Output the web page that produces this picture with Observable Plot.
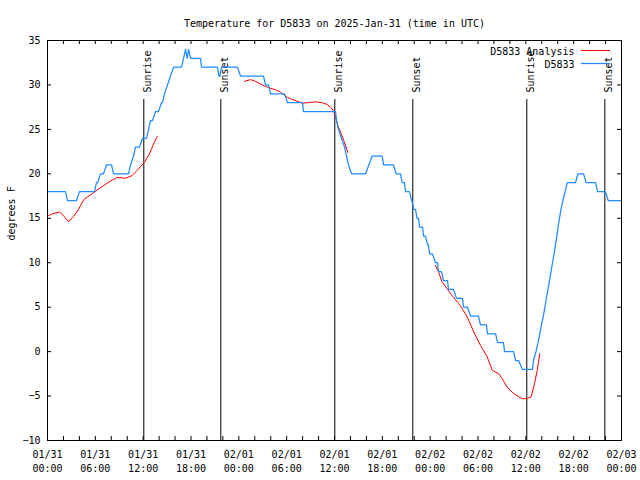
<!DOCTYPE html>
<html><head><meta charset="utf-8">
<script src="https://cdn.jsdelivr.net/npm/d3@7"></script>
<script src="https://cdn.jsdelivr.net/npm/@observablehq/plot@0.6"></script>
<style>body{margin:0;background:#fff}</style>
</head><body><div id="chart"></div>
<script>
const title = "Temperature for D5833 on 2025-Jan-31 (time in UTC)";
const yLabel = "degrees F";
const seriesNames = ["D5833 Analysis", "D5833"];
const seriesColors = ["#ff0000", "#1e8cff"];

// [hours since 2025-01-31 00:00 UTC, degrees F]
const obsPoints = [
  [0,18],[2.26,18],[2.51,17],[3.64,17],[4.01,18],[5.90,18],[6.15,19],[6.27,19],[6.65,20],[7.02,20],
  [7.40,21],[8.03,21],[8.28,20],[10.16,20],[10.41,21],[10.79,22],[11.04,23],[11.54,23],[11.92,24],[12.42,24],
  [12.67,25],[12.92,26],[13.17,26],[13.55,27],[13.92,27],[14.30,28],[14.43,28],[14.68,29],[15.05,30],[15.43,31],
  [15.81,32],[16.81,32],[17.06,33],[17.31,34],[17.52,33],[17.69,34],[17.94,33],[19.19,33],[19.32,32],[21.32,32],
  [21.51,31],[21.64,31],[21.83,32],[23.83,32],[24.21,31],[27.09,31],[27.35,30],[27.72,30],[27.97,29],[29.73,29],
  [30.11,28],[31.99,28],[32.11,27],[36.13,27],[36.25,26],[36.50,25],[36.88,24],[37.26,23],[37.51,22],[37.76,21],
  [38.14,20],[39.89,20],[40.73,22],[41.98,22],[42.15,21],[43.40,21],[43.74,20],[44.28,20],[44.49,19],[44.78,19],
  [44.91,18],[45.41,18],[45.66,17],[45.72,17],[45.91,16],[46.16,16],[46.35,15],[46.54,15],[46.67,14],[47.05,14],
  [47.17,13],[47.42,13],[47.67,12],[47.79,12],[47.92,11],[48.29,11],[48.67,10],[48.92,10],[49.05,9],[49.42,9],
  [49.67,8],[50.18,8],[50.30,7],[50.93,7],[51.30,6],[52.06,6],[52.18,5],[52.68,5],[53.06,4],[54.06,4],
  [54.31,3],[55.06,3],[55.19,2],[56.21,2],[56.45,1],[57.20,1],[57.33,0],[58.46,0],[58.71,-1],[59.09,-1],
  [59.58,-2],[60.84,-2],[60.96,-1],[61.28,0],[61.53,1],[61.75,2],[61.97,3],[62.19,4],[62.40,5],[62.57,6],
  [62.78,7],[62.97,8],[63.16,9],[63.35,10],[63.54,11],[63.72,12],[63.89,13],[64.04,14],[64.22,15],[64.41,16],
  [64.66,17],[64.92,18],[65.19,19],[66.23,19],[66.52,20],[67.24,20],[67.57,19],[68.74,19],[68.99,18],[69.99,18],
  [70.33,17],[72.0,17]
];

// analysis: three runs separated by null
const anaPoints = [
  [0.13,15.3],[0.63,15.5],[1.51,15.7],[2.01,15.3],[2.63,14.6],[3.26,15.2],[3.89,16.0],[4.55,17.1],[5.81,17.9],[7.06,18.7],
  [8.12,19.3],[8.74,19.6],[9.78,19.5],[10.62,19.8],[11.25,20.4],[12.08,21.2],[12.71,22.1],[13.33,23.4],[13.76,24.2],
  null,
  [24.71,30.4],[25.46,30.6],[26.09,30.4],[26.93,30.0],[27.76,29.7],[28.60,29.45],[29.23,29.2],[30.07,28.6],[30.90,28.3],[31.95,27.95],
  [32.58,28.0],[33.62,28.1],[34.46,28.0],[35.09,27.8],[35.62,27.4],[35.91,27.0],[36.13,26.45],[36.42,25.4],[36.75,24.7],[37.17,23.75],[37.67,22.4],
  null,
  [48.67,9.7],[49.08,8.9],[49.51,7.8],[50.14,7.06],[50.76,6.3],[51.59,5.4],[52.43,4.25],[52.85,3.5],[53.47,2.2],[54.31,0.7],
  [55.16,-0.6],[55.78,-2.1],[56.61,-2.5],[57.04,-3.06],[57.66,-4.0],[58.49,-4.75],[59.55,-5.3],[60.09,-5.3],[60.67,-5.1],[61.09,-3.6],
  [61.43,-2.1],[61.75,-0.25]
];

const sunriseHours = [12.08, 36.04, 60.12];
const sunsetHours = [21.74, 45.82, 69.91];

const xTickHours = [0,6,12,18,24,30,36,42,48,54,60,66,72];
const xTickDates = ["01/31","01/31","01/31","01/31","02/01","02/01","02/01","02/01","02/02","02/02","02/02","02/02","02/03"];
const xTickTimes = ["00:00","06:00","12:00","18:00","00:00","06:00","12:00","18:00","00:00","06:00","12:00","18:00","00:00"];
const xMinorStepHours = 2;
const yTicks = [-10,-5,0,5,10,15,20,25,30,35];

const t0 = Date.UTC(2025, 0, 31);
const toDate = h => new Date(t0 + h * 3600e3);
const obs = obsPoints.map(([h, v]) => ({t: toDate(h), v}));
const ana = anaPoints.map(p => p ? {t: toDate(p[0]), v: p[1]} : {t: new Date(NaN), v: NaN});
const sun = [
  ...sunriseHours.map(h => ({t: toDate(h), label: "Sunrise"})),
  ...sunsetHours.map(h => ({t: toDate(h), label: "Sunset"}))
];
const minorTicks = d3.range(0, 72 + 1e-9, xMinorStepHours).map(toDate);
const majorTicks = xTickHours.map(toDate);
const labelMap = new Map(xTickHours.map((h, i) => [+toDate(h), xTickDates[i] + "\n" + xTickTimes[i]]));

const chart = Plot.plot({
  width: 640, height: 480,
  marginLeft: 47, marginRight: 19, marginTop: 40, marginBottom: 40,
  style: {fontFamily: "'DejaVu Sans Mono', monospace", fontSize: "10px", background: "#fff", color: "#000"},
  x: {type: "utc", domain: [toDate(0), toDate(72)], label: null},
  y: {domain: [-10, 35], label: null},
  marks: [
    Plot.tickX(sun, {x: "t", insetTop: 59, stroke: "#000", strokeWidth: 1}),
    Plot.text(sun, {x: "t", text: "label", frameAnchor: "top", dy: 52, rotate: -90, textAnchor: "start", fill: "#000"}),
    Plot.line(ana, {x: "t", y: "v", stroke: seriesColors[0], strokeWidth: 1}),
    Plot.line(obs, {x: "t", y: "v", stroke: seriesColors[1], strokeWidth: 1.25}),
    Plot.tickX(minorTicks, {insetTop: 396, stroke: "#000"}),
    Plot.tickX(minorTicks, {insetBottom: 396, stroke: "#000"}),
    Plot.tickY(yTicks, {insetRight: 570, stroke: "#000"}),
    Plot.tickY(yTicks, {insetLeft: 570, stroke: "#000"}),
    Plot.axisX(majorTicks, {tickSize: 0, tickPadding: 7, tickFormat: d => labelMap.get(+d), lineHeight: 1.43, label: null}),
    Plot.axisY(yTicks, {tickSize: 0, tickPadding: 7, label: null}),
    Plot.frame({stroke: "#000"}),
    Plot.text([title], {frameAnchor: "top", dy: -21, fill: "#000"}),
    Plot.text([yLabel], {frameAnchor: "left", dx: -36, rotate: -90, fill: "#000"}),
    Plot.text([seriesNames[0]], {frameAnchor: "top-right", dx: -47, dy: 7, textAnchor: "end", fill: "#000"}),
    Plot.text([seriesNames[1]], {frameAnchor: "top-right", dx: -47, dy: 20, textAnchor: "end", fill: "#000"}),
    Plot.tickY([35], {insetLeft: 534, insetRight: 11, dy: 10, stroke: seriesColors[0]}),
    Plot.tickY([35], {insetLeft: 534, insetRight: 11, dy: 23, stroke: seriesColors[1], strokeWidth: 1.25})
  ]
});
document.getElementById("chart").appendChild(chart);
</script>
</body></html>
